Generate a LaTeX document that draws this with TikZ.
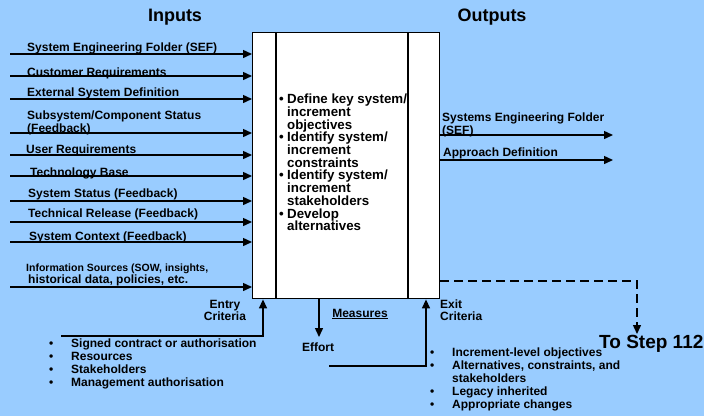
\documentclass[tikz,border=0pt]{standalone}
\usepackage{fontspec}
\setmainfont{Liberation Sans}
\usetikzlibrary{arrows.meta}
\definecolor{bg}{HTML}{99CCFF}
\newcommand{\bl}{\makebox[8pt][l]{\textbullet}}
\newcommand{\cl}{\hspace*{8pt}}
\newcommand{\bb}{\makebox[22pt][l]{\textbullet}}
\begin{document}
\begin{tikzpicture}[x=1pt,y=-1pt,
  lbl/.style={font=\bfseries\fontsize{12}{12.5}\selectfont, anchor=west, inner sep=0pt, align=left},
  lst/.style={font=\bfseries\fontsize{12}{13}\selectfont, anchor=west, inner sep=0pt, align=left},
  head/.style={font=\bfseries\fontsize{18}{20}\selectfont, inner sep=0pt},
  arr/.style={line width=1.4pt, -{Triangle[length=9pt,width=8pt]}},
  plain/.style={line width=1.4pt},
  dsh/.style={line width=1.4pt, dash pattern=on 9pt off 5pt, -{Triangle[length=9pt,width=8pt]}}]
\useasboundingbox (0,0) rectangle (704,416);
\fill[bg] (0,0) rectangle (704,416);
% headings
\node[head] (hin) at (175,17) {Inputs};
\node[head] (hout) at (492,17) {Outputs};
% main box
\node[draw, line width=1.4pt, fill=white, minimum width=187pt, minimum height=266pt, anchor=north west, inner sep=0pt] (box) at (252,32) {};
\coordinate (v1t) at (276,32); \coordinate (v1b) at (276,298);
\coordinate (v2t) at (408,32); \coordinate (v2b) at (408,298);
\draw[plain] (v1t) -- (v1b);
\draw[plain] (v2t) -- (v2b);
\node[font=\bfseries\fontsize{13.3}{12.7}\selectfont, anchor=west, inner sep=0pt, align=left] (mid) at (279,162.5) {%
\bl Define key system/\\ \cl increment\\ \cl objectives\\
\bl Identify system/\\ \cl increment\\ \cl constraints\\
\bl Identify system/\\ \cl increment\\ \cl stakeholders\\
\bl Develop\\ \cl alternatives};
% inputs
\coordinate (i1) at (10,54);
\coordinate (i2) at (10,76);
\coordinate (i3) at (10,99);
\coordinate (i4) at (10,133);
\coordinate (i5) at (10,155);
\coordinate (i6) at (10,176);
\coordinate (i7) at (10,201);
\coordinate (i8) at (10,222);
\coordinate (i9) at (10,242);
\coordinate (i10) at (10,287);
\foreach \i in {1,...,10} {\draw[arr] (i\i) -- (i\i -| box.west);}
\node[lbl] (l1) at (27,48.5) {System Engineering Folder (SEF)};
\node[lbl] (l2) at (27,73.5) {Customer Requirements};
\node[lbl] (l3) at (27,93.5) {External System Definition};
\node[lbl] (l4) at (27,123) {Subsystem/Component Status\\(Feedback)};
\node[lbl] (l5) at (26,150.5) {User Requirements};
\node[lbl] (l6) at (30,173.5) {Technology Base};
\node[lbl] (l7) at (28,194.5) {System Status (Feedback)};
\node[lbl] (l8) at (28,214.5) {Technical Release (Feedback)};
\node[lbl] (l9) at (29,237.5) {System Context (Feedback)};
\node[lbl,font=\bfseries\fontsize{10.5}{11}\selectfont] (l10a) at (26,268.5) {Information Sources (SOW, insights,};
\node[lbl] (l10b) at (28,280) {historical data, policies, etc.};
% outputs
\coordinate (o1) at (box.east |- 0,135);
\coordinate (o2) at (box.east |- 0,160);
\coordinate (o1e) at (613,135);
\coordinate (o2e) at (613,160);
\draw[arr] (o1) -- (o1e);
\draw[arr] (o2) -- (o2e);
\node[lbl] (lo1) at (442,125) {Systems Engineering Folder\\(SEF)};
\node[lbl] (lo2) at (443,153) {Approach Definition};
% entry criteria
\coordinate (entL) at (61,336);
\coordinate (entC) at (263,336);
\draw[arr] (entL) -- (entC) -- (entC |- box.south);
\node[lbl, anchor=center, align=center] (entry) at (225,310.5) {Entry\\Criteria};
\node[lst] (entlist) at (49,364) {\bb Signed contract or authorisation\\ \bb Resources\\ \bb Stakeholders\\ \bb Management authorisation};
% effort
\node[lbl, anchor=center] (effort) at (318,347.5) {Effort};
\coordinate (effT) at (319,298);
\coordinate (effB) at (319,337);
\draw[arr] (effT) -- (effB);
\node[lbl, anchor=center] (meas) at (360,314) {\underline{Measures}};
% exit criteria
\coordinate (exL) at (329,366);
\coordinate (exC) at (426,366);
\draw[arr] (exL) -- (exC) -- (exC |- box.south);
\node[lbl] (exit) at (440,310) {Exit\\Criteria};
\node[lst] (exlist) at (430,379.5) {\bb Increment-level objectives\\ \bb Alternatives, constraints, and\\ \hspace*{22pt}stakeholders\\ \bb Legacy inherited\\ \bb Appropriate changes};
% to step 112
\node[head, anchor=west, font=\bfseries\fontsize{19}{20}\selectfont] (step) at (599,344) {To Step 112};
\coordinate (dS) at (box.east |- 0,281);
\coordinate (dT) at (637,281);
\coordinate (dE) at (637,334);
\draw[dsh] (dS) -- (dT) -- (dE);
\end{tikzpicture}
\end{document}
